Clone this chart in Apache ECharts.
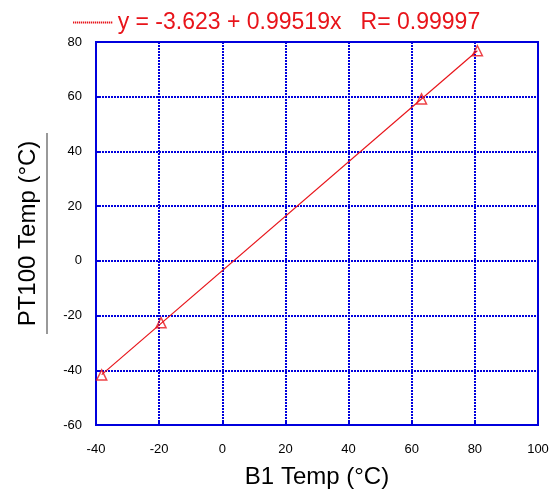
<!DOCTYPE html>
<html><head><meta charset="utf-8">
<script src="https://cdn.jsdelivr.net/npm/echarts@6/dist/echarts.min.js"></script>
<style>html,body{margin:0;padding:0;background:#fff}#c{width:552px;height:494px}</style>
</head><body><div id="c"></div>
<script>
const xTicks = [-40, -20, 0, 20, 40, 60, 80, 100];
const yTicks = [-60, -40, -20, 0, 20, 40, 60, 80];
const b1Temp = [-38.2, -19.4, 63.1, 80.8];
const pt100Temp = [-41.7, -22.6, 59.2, 76.8];
const fitX = [-38.2, 80.8];
const fitY = [-41.6, 76.8];
const fitLabel = 'y = -3.623 + 0.99519x   R= 0.99997';

let dots = '';
for (let i = 0; i < 40; i += 2) dots += 'M' + i + ',0h1.3v2h-1.3z';

const chart = echarts.init(document.getElementById('c'));
const blue = '#0000dd';
const red = '#e8141a';
chart.setOption({
  animation: false,
  backgroundColor: '#fff',
  textStyle: { fontFamily: 'Liberation Sans, Arial, sans-serif' },
  legend: {
    data: [fitLabel],
    top: 6, left: 68,
    itemWidth: 40, itemHeight: 2, itemGap: 4,
    icon: 'path://' + dots,
    itemStyle: { color: red },
    textStyle: { color: red, fontSize: 23, fontFamily: 'Liberation Sans, Arial, sans-serif', padding: [0, 0, 0, 0] }
  },
  grid: { left: 96, right: 14, top: 42, bottom: 69, show: true, borderColor: blue, borderWidth: 2 },
  xAxis: {
    type: 'value', min: xTicks[0], max: xTicks[xTicks.length - 1], interval: 20,
    name: 'B1 Temp (°C)', nameLocation: 'middle', nameGap: 40,
    nameTextStyle: { fontSize: 24, color: '#000' },
    axisLine: { show: true, onZero: false, lineStyle: { color: blue, width: 2 } },
    axisTick: { show: true, inside: true, length: 4, lineStyle: { color: blue, width: 2 } },
    axisLabel: { color: '#000', fontSize: 13, margin: 18 },
    splitLine: { show: true, lineStyle: { color: blue, width: 2, type: [2, 1] } }
  },
  yAxis: {
    type: 'value', min: yTicks[0], max: yTicks[yTicks.length - 1], interval: 20,
    name: 'PT100 Temp (°C)', nameLocation: 'middle', nameGap: 56,
    nameTextStyle: { fontSize: 24, color: '#000' },
    axisLine: { show: true, onZero: false, lineStyle: { color: blue, width: 2 } },
    axisTick: { show: true, inside: true, length: 4, lineStyle: { color: blue, width: 2 } },
    axisLabel: { color: '#000', fontSize: 13, margin: 14 },
    splitLine: { show: true, lineStyle: { color: blue, width: 2, type: [2, 1] } }
  },
  graphic: [{
    type: 'line', shape: { x1: 47, y1: 133, x2: 47, y2: 334 },
    style: { stroke: '#999', lineWidth: 2 }
  }],
  series: [
    {
      name: fitLabel, type: 'line', symbol: 'none',
      data: fitX.map((x, i) => [x, fitY[i]]),
      lineStyle: { color: red, width: 1.2 },
      itemStyle: { color: red }
    },
    {
      name: 'data', type: 'scatter', symbol: 'triangle', symbolSize: 10,
      data: b1Temp.map((x, i) => [x, pt100Temp[i]]),
      itemStyle: { color: 'rgba(255,255,255,0)', borderColor: red, borderWidth: 1.5 }
    }
  ]
});
</script></body></html>
